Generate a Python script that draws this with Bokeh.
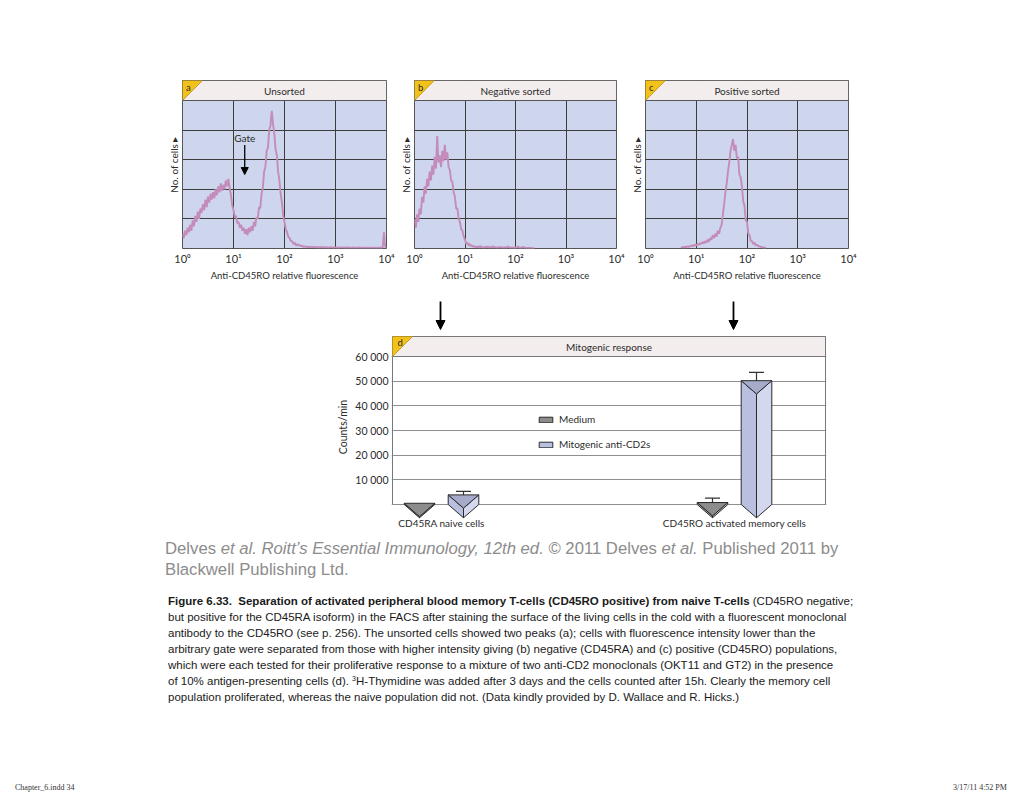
from bokeh.plotting import figure
from bokeh.models import Range1d, FixedTicker, Arrow, NormalHead, Legend, LegendItem, Spacer, Div
from bokeh.layouts import column, row
from bokeh.embed import file_html
from bokeh.resources import INLINE
from bokeh.core.properties import value

# ---------------- data: FACS histograms ----------------
# x: log10 of anti-CD45RO fluorescence (decades), one channel every CH_STEP decades
# y: number of cells, in % of the panel height
CH_STEP = 0.025
A_START = 0.0
A_COUNTS = [10, 7, 12, 9, 14, 11, 16, 12,
            19, 15, 22, 18, 25, 20, 27, 24,
            30, 26, 33, 28, 35, 31, 37, 33,
            38, 34, 40, 36, 42, 38, 44, 39,
            43, 40, 46, 42, 47, 41, 36, 29,
            26, 21, 22, 17, 18, 14, 16, 12,
            14, 10, 13, 9, 14, 11, 15, 12,
            18, 15, 21, 20, 28, 27, 37, 41,
            52, 55, 66, 68, 80, 83, 93, 84,
            78, 67, 63, 52, 46, 37, 31, 22,
            18, 13, 11, 8, 7, 5, 5, 3,
            4, 2, 3, 2, 2.5, 1.5, 2, 1,
            1.5, 1, 1.2, 0.8, 1.3, 0.9, 1.1, 0.7,
            1, 0.7, 1, 0.6, 0.9, 0.7, 1, 0.6,
            0.9, 0.6, 0.8, 0.5, 0.9, 0.6, 0.8, 0.5,
            0.8, 0.5, 0.7, 0.5, 0.8, 0.6, 0.7, 0.5,
            0.7, 0.5, 0.8, 0.5, 0.6, 0.4, 0.7, 0.5,
            0.6, 0.4, 0.7, 0.5, 0.6, 0.4, 0.6, 0.5,
            0.6, 0.4, 0.5, 0.4, 0.6, 0.4, 0.5, 0.4,
            0.5, 0.4, 0.6, 0.4, 0.5, 0.4, 11, 1.0,
            0.5]
B_START = 0.0
B_COUNTS = [20, 14, 23, 18, 27, 23, 35, 31,
            42, 37, 47, 42, 52, 46, 56, 50,
            62, 54, 76, 58, 63, 55, 66, 59,
            70, 60, 65, 55, 53, 46, 45, 38,
            35, 27, 27, 20, 18, 13, 12, 8,
            6, 3, 4, 2, 3, 1.5, 2, 1,
            1.5, 0.8, 1.2, 0.6, 1.8, 0.6, 1, 0.5,
            1.2, 0.6, 1.5, 0.5, 0.9, 0.5, 1.6, 0.5,
            1, 0.5, 0.8, 0.4, 1.2, 0.5, 0.8, 0.4,
            0.9, 0.4, 1.5, 0.4, 0.7, 0.4, 0.8, 0.3,
            0.8, 0.4, 1.4, 0.4, 0.6, 0.3, 1.2, 0.3,
            0.6, 0.3, 0.4, 0.3, 0.3, 0.2, 0.2, 0.2]
C_START = 0.7
C_COUNTS = [0.5, 1, 0.6, 1.2, 0.8, 1.5, 1, 1.8,
            1.4, 2.2, 1.6, 2.8, 2, 3.2, 2.4, 3.6,
            3, 4.4, 3.4, 5, 4, 6, 4.6, 7,
            6, 9, 7, 10, 8, 12, 10, 14,
            16, 23, 30, 38, 44, 52, 58, 66,
            70, 74, 66, 70, 61, 62, 50, 48,
            42, 32, 29, 19, 18, 10, 9, 5,
            5, 3, 4, 2, 2.5, 1.5, 1.5, 1,
            1, 0.6, 0.6, 0.3]
DECADE_TICKS = [0, 1, 2, 3, 4]
DECADE_LABELS = ["10\u2070", "10\u00b9", "10\u00b2", "10\u00b3", "10\u2074"]
PANEL_LETTERS = ["a", "b", "c"]
PANEL_TITLES = ["Unsorted", "Negative sorted", "Positive sorted"]
GATE_DECADE = 1.22

# ---------------- data: mitogenic response ----------------
GROUPS = ["CD45RA naive cells", "CD45RO activated memory cells"]
SERIES = ["Medium", "Mitogenic anti-CD2s"]
MEDIUM = [500, 800]
MEDIUM_SD = [0, 1800]
MITOGENIC = [3900, 50200]
MITOGENIC_SD = [1400, 3400]
COUNT_TICKS = [10000, 20000, 30000, 40000, 50000, 60000]
COUNT_LABELS = ["10 000", "20 000", "30 000", "40 000", "50 000", "60 000"]

# ---------------- styles ----------------
FONT = "Lato"
TXT = "#2b2b2b"
PANEL_BG = "#cdd6ec"
HEADER_BG = "#f3eded"
GRID = "#3d3d3d"
OUTLINE = "#555555"
HIST = "#c48cba"
YELLOW = "#f2c21b"

# ---------------- histogram panels ----------------
PLOT_W = 204
H_TOP, H_FRAME, H_BOT = 80, 168, 42
HEADER_PX = 20
Y_PLOT = 100.0
Y_TOP = Y_PLOT * H_FRAME / (H_FRAME - HEADER_PX)
CORNER_X = 4 * HEADER_PX / PLOT_W


def hist_panel(idx, counts, start, left_b, right_b, gate=False):
    p = figure(width=left_b + PLOT_W + right_b, height=H_TOP + H_FRAME + H_BOT,
               x_range=Range1d(0, 4), y_range=Range1d(0, Y_TOP), title=None,
               output_backend="svg", toolbar_location=None,
               min_border_left=left_b, min_border_right=right_b,
               min_border_top=H_TOP, min_border_bottom=H_BOT)
    p.background_fill_color = PANEL_BG
    p.border_fill_color = "white"
    p.outline_line_color = OUTLINE
    p.outline_line_width = 1
    p.xgrid.ticker = FixedTicker(ticks=[1, 2, 3])
    p.ygrid.ticker = FixedTicker(ticks=[20, 40, 60, 80])
    for g in (p.xgrid, p.ygrid):
        g.grid_line_color = GRID
        g.grid_line_width = 1

    xa = p.xaxis[0]
    xa.ticker = FixedTicker(ticks=DECADE_TICKS)
    xa.major_label_overrides = dict(zip(DECADE_TICKS, DECADE_LABELS))
    xa.axis_line_color = None
    xa.major_tick_out = 0
    xa.major_tick_in = 0
    xa.minor_tick_out = 0
    xa.major_label_standoff = 3
    xa.major_label_text_font = FONT
    xa.major_label_text_font_size = "11px"
    xa.major_label_text_color = TXT
    xa.axis_label = "Anti-CD45RO relative fluorescence"
    xa.axis_label_text_font = FONT
    xa.axis_label_text_font_size = "9.5px"
    xa.axis_label_text_font_style = "normal"
    xa.axis_label_text_color = TXT
    xa.axis_label_standoff = 2

    ya = p.yaxis[0]
    ya.ticker = FixedTicker(ticks=[])
    ya.axis_line_color = None
    ya.major_tick_out = 0
    ya.major_tick_in = 0
    ya.minor_tick_out = 0
    ya.major_label_standoff = 0
    ya.axis_label = "No. of cells \u25b8"
    ya.axis_label_text_font = FONT
    ya.axis_label_text_font_size = "10px"
    ya.axis_label_text_font_style = "normal"
    ya.axis_label_text_color = TXT
    ya.axis_label_standoff = 3

    xs = [start + k * CH_STEP for k in range(len(counts))]
    p.line(xs, counts, line_color=HIST, line_width=1.9)

    p.quad(left=[0], right=[4], bottom=[Y_PLOT], top=[Y_TOP],
           fill_color=HEADER_BG, line_color=OUTLINE, line_width=1)
    p.patch([0, CORNER_X, 0], [Y_TOP, Y_TOP, Y_PLOT], fill_color=YELLOW,
            line_color="#b8901a", line_width=0.8)
    p.text(x=[0.07], y=[Y_TOP - 1.0], text=[PANEL_LETTERS[idx]], text_baseline="top",
           text_align="left", text_font=value(FONT), text_font_size="9.5px", text_color=TXT)
    p.text(x=[2.0], y=[(Y_PLOT + Y_TOP) / 2], text=[PANEL_TITLES[idx]], text_baseline="middle",
           text_align="center", text_font=value(FONT), text_font_size="10px", text_color=TXT)
    if gate:
        p.text(x=[GATE_DECADE], y=[75], text=["Gate"], text_baseline="middle",
               text_align="center", text_font=value(FONT), text_font_size="10px", text_color=TXT)
        p.add_layout(Arrow(end=NormalHead(size=7, fill_color="black", line_color="black"),
                           x_start=GATE_DECADE, y_start=70, x_end=GATE_DECADE, y_end=50,
                           line_color="black", line_width=1.3))
    return p


fa = hist_panel(0, A_COUNTS, A_START, 182, 10, gate=True)
fb = hist_panel(1, B_COUNTS, B_START, 16, 11)
fc = hist_panel(2, C_COUNTS, C_START, 17, 168)

# ---------------- mitogenic response panel ----------------
D_FIG_L, D_FIG_R = 330, 840
D_FRAME_L, D_FRAME_R = 391, 826
ARROW_TOP = 290
D_FRAME_T, D_FRAME_B, D_FIG_B = 335, 518, 532
ZERO_PX = 504
PX_PER_COUNT = 148 / 60000
GROUP_PX = (441, 734)
UNIT_PX = GROUP_PX[1] - GROUP_PX[0]


def cx(px):
    return 1 + (px - GROUP_PX[0]) / UNIT_PX


def cy(py):
    return (ZERO_PX - py) / PX_PER_COUNT


shared_x = Range1d(cx(D_FRAME_L), cx(D_FRAME_R))
GROUP_POS = [i + 1 for i in range(len(GROUPS))]

# arrows strip above panel d (pointing from panels b and c to the groups)
fr = figure(width=D_FIG_R - D_FIG_L, height=D_FRAME_T - ARROW_TOP, title=None,
            x_range=shared_x, y_range=Range1d(D_FRAME_T, ARROW_TOP),
            output_backend="svg", toolbar_location=None,
            min_border_left=D_FRAME_L - D_FIG_L, min_border_right=D_FIG_R - D_FRAME_R,
            min_border_top=0, min_border_bottom=0)
fr.axis.visible = False
fr.grid.visible = False
fr.outline_line_color = None
for gpos in GROUP_POS:
    fr.add_layout(Arrow(end=NormalHead(size=9, fill_color="black", line_color="black"),
                        x_start=gpos - 1 / UNIT_PX, y_start=301,
                        x_end=gpos - 1 / UNIT_PX, y_end=329,
                        line_color="black", line_width=1.8))

fd = figure(width=D_FIG_R - D_FIG_L, height=D_FIG_B - D_FRAME_T, title=None,
            x_range=shared_x, y_range=Range1d(cy(D_FRAME_B), cy(D_FRAME_T)),
            output_backend="svg", toolbar_location=None,
            min_border_left=D_FRAME_L - D_FIG_L, min_border_right=D_FIG_R - D_FRAME_R,
            min_border_top=0, min_border_bottom=D_FIG_B - D_FRAME_B)
fd.outline_line_color = None
fd.background_fill_color = "white"
fd.xgrid.grid_line_color = None
fd.ygrid.ticker = FixedTicker(ticks=[0] + COUNT_TICKS)
fd.ygrid.grid_line_color = "#8f8f8f"
fd.ygrid.grid_line_width = 1

ya = fd.yaxis[0]
ya.ticker = FixedTicker(ticks=COUNT_TICKS)
ya.major_label_overrides = dict(zip(COUNT_TICKS, COUNT_LABELS))
ya.axis_line_color = None
ya.major_tick_out = 0
ya.major_tick_in = 0
ya.major_label_standoff = 3
ya.major_label_text_font = FONT
ya.major_label_text_font_size = "10.5px"
ya.major_label_text_color = TXT
ya.axis_label = "Counts/min"
ya.axis_label_text_font = FONT
ya.axis_label_text_font_size = "10.5px"
ya.axis_label_text_font_style = "normal"
ya.axis_label_text_color = TXT
ya.axis_label_standoff = 3

xa = fd.xaxis[0]
xa.ticker = FixedTicker(ticks=GROUP_POS)
xa.major_label_overrides = dict(zip(GROUP_POS, GROUPS))
xa.axis_line_color = None
xa.major_tick_out = 0
xa.major_tick_in = 0
xa.major_label_standoff = -2
xa.major_label_text_font = FONT
xa.major_label_text_font_size = "10px"
xa.major_label_text_color = TXT

BOX_L, BOX_R = cx(392), cx(825)
HEAD_BOT = COUNT_TICKS[-1]
HEAD_TOP = cy(336)
fd.quad(left=[BOX_L], right=[BOX_R], bottom=[HEAD_BOT], top=[HEAD_TOP],
        fill_color=HEADER_BG, line_color="#777777", line_width=1)
fd.segment(x0=[BOX_L, BOX_R], y0=[0, 0], x1=[BOX_L, BOX_R], y1=[HEAD_TOP, HEAD_TOP],
           line_color="#777777", line_width=1)
corner_w = 20 / UNIT_PX
fd.patch([BOX_L, BOX_L + corner_w, BOX_L], [HEAD_TOP, HEAD_TOP, HEAD_BOT],
         fill_color=YELLOW, line_color="#b8901a", line_width=0.8)
fd.text(x=[BOX_L + 5 / UNIT_PX], y=[HEAD_TOP - 300], text=["d"], text_baseline="top",
        text_font=value(FONT), text_font_size="9.5px", text_color=TXT)
fd.text(x=[(BOX_L + BOX_R) / 2], y=[(HEAD_BOT + HEAD_TOP) / 2], text=["Mitogenic response"],
        text_align="center", text_baseline="middle", text_font=value(FONT),
        text_font_size="10px", text_color=TXT)

# triangular-prism bars
HALF_W = 15.3 / UNIT_PX
DEPTH = 13.3 / PX_PER_COUNT
OFFSET = 22 / UNIT_PX
CAP = 7.5 / UNIT_PX
series_defs = [
    (MEDIUM, MEDIUM_SD, -OFFSET, ("#a3a3a3", "#c0c0c0", "#8c8c8c")),
    (MITOGENIC, MITOGENIC_SD, OFFSET, ("#b9bfdf", "#d3d8ef", "#a5abc8")),
]
LEGEND_FACE = [2, 0]   # which face colour represents each series in the legend
err_x0, err_y0, err_y1 = [], [], []
face_xs, face_ys, face_col = [], [], []
series_first_face = []
for vals, sds, off, (c_left, c_right, c_top) in series_defs:
    series_first_face.append(len(face_col))
    for gi, gpos in enumerate(GROUP_POS):
        c = gpos + off
        v = vals[gi]
        if sds[gi] > 0:
            err_x0.append(c)
            err_y0.append(v)
            err_y1.append(v + sds[gi])
        face_xs += [[c - HALF_W, c, c, c - HALF_W],
                    [c, c + HALF_W, c + HALF_W, c],
                    [c - HALF_W, c + HALF_W, c]]
        face_ys += [[v, v - DEPTH, -DEPTH, 0],
                    [v - DEPTH, v, 0, -DEPTH],
                    [v, v, v - DEPTH]]
        face_col += [c_left, c_right, c_top]

fd.segment(x0=err_x0, y0=err_y0, x1=err_x0, y1=err_y1, line_color="#333333", line_width=1.2)
fd.segment(x0=[x - CAP for x in err_x0], y0=err_y1, x1=[x + CAP for x in err_x0], y1=err_y1,
           line_color="#333333", line_width=1.2)
faces = fd.patches(xs=face_xs, ys=face_ys, fill_color=face_col, line_color="#2a2a2a",
                   line_width=1, line_join="round")

legend = Legend(items=[LegendItem(label=SERIES[k], renderers=[faces],
                                  index=series_first_face[k] + LEGEND_FACE[k])
                       for k in range(len(SERIES))],
                location=(146, 68), orientation="vertical",
                border_line_color=None, background_fill_alpha=0,
                glyph_width=17, glyph_height=7, label_height=12, spacing=13,
                padding=0, margin=0, label_standoff=5,
                label_text_font=FONT, label_text_font_size="10px", label_text_color=TXT)
fd.add_layout(legend)

# ---------------- page texts ----------------
citation = Div(text=(
    '<div style="margin-left:165px;padding-top:6px;font-family:\'Liberation Sans\',Arial,sans-serif;'
    'font-size:16.7px;line-height:21px;color:#8c8c8c;white-space:nowrap;">'
    'Delves <i>et al.</i> <i>Roitt\u2019s Essential Immunology, 12th ed.</i> \u00a9 2011 Delves '
    '<i>et al.</i> Published 2011 by<br>Blackwell Publishing Ltd.</div>'),
    width=1016, height=48, margin=(0, 0, 0, 0))

caption = Div(text=(
    '<div style="margin-left:168px;padding-top:13px;font-family:\'Liberation Sans\',Arial,sans-serif;'
    'font-size:11.5px;line-height:16px;color:#1a1a1a;white-space:nowrap;">'
    '<b>Figure 6.33.&nbsp; Separation of activated peripheral blood memory T-cells (CD45RO positive) '
    'from naive T-cells</b> (CD45RO negative;<br>'
    'but positive for the CD45RA isoform) in the FACS after staining the surface of the living cells '
    'in the cold with a fluorescent monoclonal<br>'
    'antibody to the CD45RO (see p. 256). The unsorted cells showed two peaks (a); cells with '
    'fluorescence intensity lower than the<br>'
    'arbitrary gate were separated from those with higher intensity giving (b) negative (CD45RA) '
    'and (c) positive (CD45RO) populations,<br>'
    'which were each tested for their proliferative response to a mixture of two anti-CD2 '
    'monoclonals (OKT11 and GT2) in the presence<br>'
    'of 10% antigen-presenting cells (d). <span style="position:relative;top:-4px;font-size:7px;'
    'line-height:0">3</span>H-Thymidine was added after 3 days '
    'and the cells counted after 15h. Clearly the memory cell<br>'
    'population proliferated, whereas the naive population did not. (Data kindly provided by '
    'D. Wallace and R. Hicks.)</div>'),
    width=1016, height=125, margin=(0, 0, 0, 0))

footer = Div(text=(
    '<div style="position:relative;width:1016px;height:85px;'
    'font-family:\'Liberation Serif\',serif;font-size:8px;color:#333;white-space:nowrap;">'
    '<span style="position:absolute;left:15px;top:77px;">Chapter_6.indd 34</span>'
    '<span style="position:absolute;left:953px;top:77px;">3/17/11 4:52 PM</span></div>'),
    width=1016, height=85, margin=(0, 0, 0, 0))

page = column(row(fa, fb, fc),
              row(Spacer(width=D_FIG_L, height=D_FIG_B - ARROW_TOP), column(fr, fd)),
              citation, caption, footer)

open("out.html", "w").write(file_html(page, INLINE, title="Figure 6.33"))
